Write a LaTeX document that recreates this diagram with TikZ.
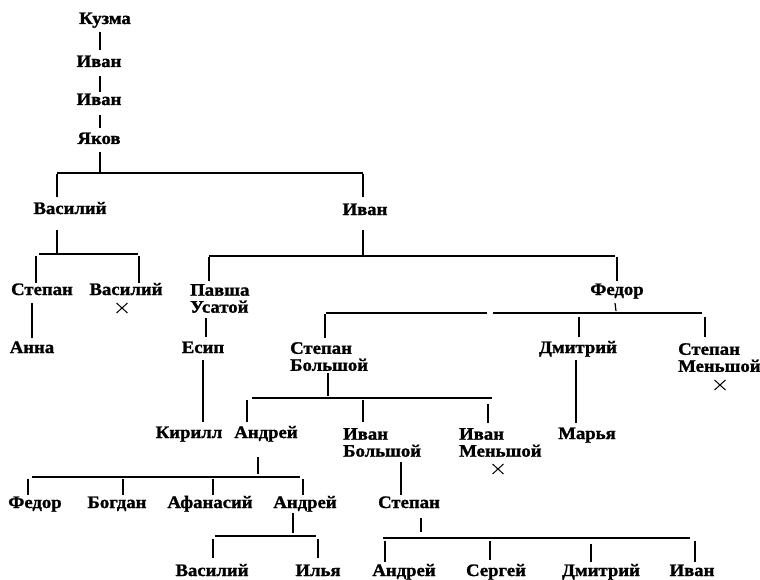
\documentclass[tikz,border=0pt]{standalone}
\usepackage{fontspec}
\usetikzlibrary{shapes.misc}
\setmainfont[FakeStretch=1.07,BoldFeatures={FakeBold=1.3}]{Liberation Serif}
\begin{document}
\begin{tikzpicture}[x=1pt,y=-1pt,
  nm/.style={font=\fontsize{17.5}{17}\selectfont\bfseries, inner sep=0pt, anchor=base},
  nm2/.style={font=\fontsize{17.5}{17}\selectfont\bfseries, inner sep=0pt, anchor=north west, align=left},
  dead/.style={cross out, draw, line width=1pt, inner sep=0pt, minimum width=10pt, minimum height=9pt},
  vl/.style={line width=1.8pt},
  hl/.style={line width=1.2pt}]
\useasboundingbox (0,0) rectangle (760,580);
% names
\node[nm] (kuzma) at (105,24) {Кузма};
\node[nm] (ivanA) at (99,67) {Иван};
\node[nm] (ivanB) at (99,105) {Иван};
\node[nm] (yakov) at (99,144) {Яков};
\node[nm] (vasiliy) at (70,214) {Василий};
\node[nm] (ivan) at (365,215) {Иван};
\node[nm] (stepan1) at (42,295) {Степан};
\node[nm] (vasiliy2) at (126,295) {Василий};
\node[dead] (x1) at (122,308) {};
\node[nm] (anna) at (32,353) {Анна};
\node[nm2] (pavsha) at (190,284) {Павша\\Усатой};
\node[nm] (esip) at (203,353) {Есип};
\node[nm] (fedor) at (617,295) {Федор};
\node[nm2] (stepanB) at (290,342) {Степан\\Большой};
\node[nm] (dmitriy) at (578,353) {Дмитрий};
\node[nm2] (stepanM) at (678,343) {Степан\\Меньшой};
\node[dead] (x2) at (720,385) {};
\node[nm] (kirill) at (189,438) {Кирилл};
\node[nm] (andrey) at (266,438) {Андрей};
\node[nm2] (ivanBol) at (343,428) {Иван\\Большой};
\node[nm2] (ivanMen) at (459,428) {Иван\\Меньшой};
\node[dead] (x3) at (498,469) {};
\node[nm] (marya) at (587,439) {Марья};
\node[nm] (fedor2) at (35,508) {Федор};
\node[nm] (bogdan) at (117,508) {Богдан};
\node[nm] (afanasiy) at (210,508) {Афанасий};
\node[nm] (andrey2) at (305,508) {Андрей};
\node[nm] (stepan3) at (409,508) {Степан};
\node[nm] (vasiliy3) at (212,576) {Василий};
\node[nm] (ilya) at (318,576) {Илья};
\node[nm] (andrey3) at (404,576) {Андрей};
\node[nm] (sergey) at (496,576) {Сергей};
\node[nm] (dmitriy2) at (601,576) {Дмитрий};
\node[nm] (ivan3) at (692,576) {Иван};
% direct lines
\draw[vl] (100,32) -- (100,50);
\draw[vl] (100,76) -- (100,92);
\draw[vl] (100,115) -- (100,128);
\draw[vl] (32,303) -- (32,338);
\draw[vl] (206,318) -- (206,337);
\draw[vl] (203,360) -- (203,422);
\draw[vl] (576,360) -- (576,423);
\draw[vl] (401,462) -- (401,495);
% Яков
\draw[vl] (100,152) -- (100,172);
\draw[hl] (57,173) -- (363,173);
\draw[vl] (57,174) -- (57,197);
\draw[vl] (363,174) -- (363,197);
% Василий
\draw[vl] (57,230) -- (57,253);
\draw[hl] (39,254) -- (138,254);
\draw[vl] (36,256) -- (36,283);
\draw[vl] (139,256) -- (139,283);
% Иван
\draw[vl] (363,230) -- (363,255);
\draw[hl] (209,256) -- (615,256);
\draw[vl] (209,257) -- (209,281);
\draw[vl] (617,257) -- (617,281);
% Федор
\draw[hl] (615,303) -- (616,311);
\draw[hl] (326,313) -- (487,313);
\draw[hl] (493,313) -- (702,313);
\draw[vl] (325,314) -- (325,338);
\draw[vl] (579,317) -- (579,337);
\draw[vl] (705,317) -- (705,337);
% Степан Большой
\draw[vl] (328,373) -- (328,396);
\draw[hl] (252,398) -- (492,398);
\draw[vl] (247,400) -- (247,422);
\draw[vl] (363,400) -- (363,422);
\draw[vl] (488,404) -- (488,423);
% Андрей
\draw[vl] (258,457) -- (258,474);
\draw[hl] (32,477) -- (300,477);
\draw[vl] (28,479) -- (28,495);
\draw[vl] (123,479) -- (123,495);
\draw[vl] (213,479) -- (213,495);
\draw[vl] (303,479) -- (303,495);
% Андрей 2
\draw[vl] (293,513) -- (293,533);
\draw[hl] (215,536) -- (316,536);
\draw[vl] (213,539) -- (213,558);
\draw[vl] (318,539) -- (318,558);
% Степан 3
\draw[vl] (421,518) -- (421,532);
\draw[hl] (383,538) -- (690,538);
\draw[vl] (385,541) -- (385,562);
\draw[vl] (490,541) -- (490,560);
\draw[vl] (591,544) -- (591,562);
\draw[vl] (695,541) -- (695,562);
\end{tikzpicture}
\end{document}
